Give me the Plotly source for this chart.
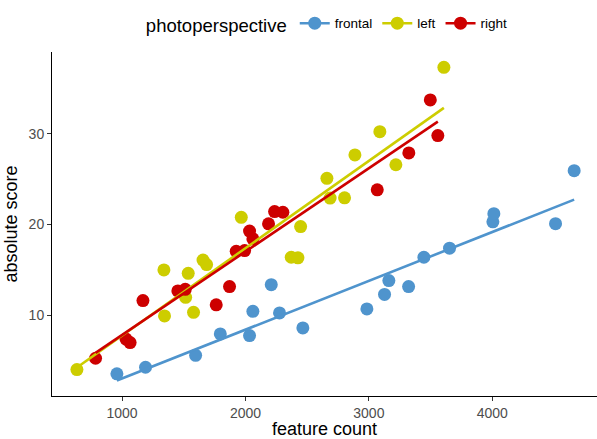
import numpy as np
import plotly.graph_objects as go

groups = ["frontal", "left", "right"]
colors = {"frontal": "#4F94CD", "left": "#CDCD00", "right": "#CD0000"}

frontal_x = [958, 1190, 1596, 1796, 2033, 2060, 2209, 2276, 2465, 2984, 3127, 3162, 3322, 3446, 3654, 4005, 4013, 4513, 4664]
frontal_y = [3.54, 4.27, 5.59, 7.95, 7.76, 10.44, 13.38, 10.26, 8.61, 10.7, 12.3, 13.83, 13.16, 16.4, 17.4, 20.3, 21.2, 20.1, 25.95]

left_x = [634, 1339, 1344, 1536, 1515, 1579, 1656, 1685, 1966, 2371, 2425, 2447, 2660, 2686, 2803, 2887, 3089, 3219, 3608]
left_y = [4.01, 15.0, 9.93, 14.63, 11.98, 10.33, 16.09, 15.59, 20.8, 16.4, 16.33, 19.78, 25.1, 22.92, 22.95, 27.68, 30.25, 26.6, 37.34]

right_x = [785, 1032, 1065, 1169, 1452, 1512, 1763, 1871, 1925, 1993, 2033, 2060, 2187, 2236, 2303, 3068, 3324, 3498, 3559]
right_y = [5.26, 7.38, 6.99, 11.62, 12.69, 12.86, 11.15, 13.16, 17.06, 17.13, 19.28, 18.42, 20.08, 21.43, 21.36, 23.83, 27.9, 33.75, 29.81]

x_ticks = [1000, 2000, 3000, 4000]
y_ticks = [10, 20, 30]

data = {"frontal": (frontal_x, frontal_y), "left": (left_x, left_y), "right": (right_x, right_y)}

fig = go.Figure()
for g in groups:
    xs, ys = data[g]
    fig.add_trace(go.Scatter(x=xs, y=ys, mode="markers", showlegend=False,
                             marker=dict(color=colors[g], size=13, line=dict(width=0)),
                             name=g))
for g in groups:
    xs, ys = data[g]
    slope, intercept = np.polyfit(xs, ys, 1)
    lx = [min(xs), max(xs)]
    ly = [intercept + slope * v for v in lx]
    fig.add_trace(go.Scatter(x=lx, y=ly, mode="lines", showlegend=False,
                             line=dict(color=colors[g], width=2.6), name=g))
for g in groups:
    fig.add_trace(go.Scatter(x=[None], y=[None], mode="lines+markers", name=g,
                             marker=dict(color=colors[g], size=13),
                             line=dict(color=colors[g], width=2.6)))

font_family = "Liberation Sans, Arial, sans-serif"
fig.update_layout(
    width=597, height=439,
    margin=dict(l=52, r=0, t=52, b=43),
    paper_bgcolor="white", plot_bgcolor="white",
    font=dict(family=font_family, color="black"),
    legend=dict(orientation="h", x=0.55, xanchor="center", y=0.982, yanchor="top",
                xref="container", yref="container",
                title=dict(text="photoperspective", font=dict(size=18.5), side="left"),
                font=dict(size=13.5), itemwidth=30, bgcolor="rgba(0,0,0,0)"),
    xaxis=dict(range=[432, 4849], tickvals=x_ticks, ticktext=[str(v) for v in x_ticks],
               showgrid=False, zeroline=False, showline=True, linecolor="black", linewidth=1,
               ticks="outside", ticklen=4, tickcolor="#333333",
               tickfont=dict(size=14, color="#4D4D4D"),
               title=dict(text="feature count", font=dict(size=18), standoff=5)),
    yaxis=dict(range=[1.1, 39.03], tickvals=y_ticks, ticktext=[str(v) for v in y_ticks],
               showgrid=False, zeroline=False, showline=True, linecolor="black", linewidth=1,
               ticks="outside", ticklen=4, tickcolor="#333333",
               tickfont=dict(size=14, color="#4D4D4D"),
               title=dict(text="absolute score", font=dict(size=18), standoff=6)),
)

fig.write_html("out.html")
